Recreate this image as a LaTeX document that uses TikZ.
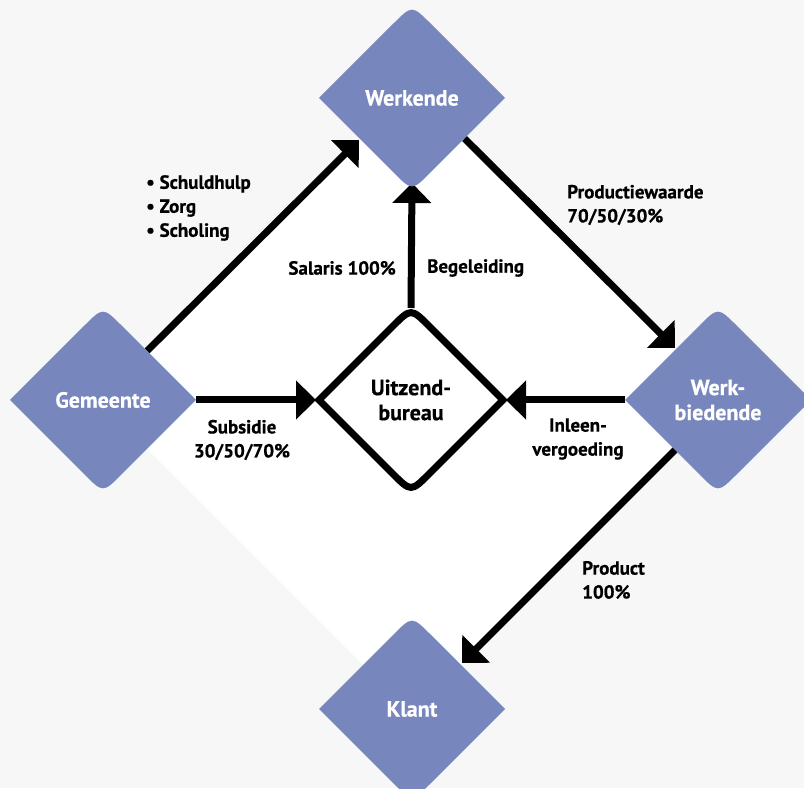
\documentclass[tikz,border=0pt]{standalone}
\usepackage{fontspec}
\setmainfont{PT Sans}[BoldFeatures={FakeBold=0.6}]
\usetikzlibrary{arrows.meta,calc,shapes.geometric,backgrounds}
\definecolor{ruitblauw}{HTML}{7786BC}
\definecolor{grijs}{HTML}{F7F7F7}
\begin{document}
\begin{tikzpicture}[x=1pt, y=1pt, >={Triangle[length=20pt,width=38pt]}]
			\tikzset{ruit/.style={shape=diamond, minimum width=186pt, minimum height=186pt, inner sep=0pt, outer sep=0pt, text=white, align=center, font=\bfseries\fontsize{22}{25}\selectfont},
				kantoor/.style={ruit, minimum width=184pt, minimum height=184pt, text=black},
				lbl/.style={inner sep=0pt, align=left, font=\bfseries\fontsize{19}{24}\selectfont},
				pijl/.style={->, line width=7pt}}
			\def\rond{.2}
			\useasboundingbox (0,0) rectangle (804,788);
			\node[ruit] (wrk) at (412,690) {Werkende};
			\node[ruit] (gem) at (103,388) {Gemeente};
			\node[ruit] (wbd) at (718,388) {Werk-\\biedende};
			\node[ruit] (kla) at (412,79) {Klant};
			\node[kantoor] (uzb) at (411,388) {Uitzend-\\bureau};
			\node[lbl, anchor=west] (zorg) at (146,580) {• Schuldhulp\\• Zorg\\• Scholing};
			\node[lbl, anchor=east] (sal) at (396,520) {Salaris 100\%};
			\node[lbl, anchor=west] (beg) at (427,520) {Begeleiding};
			\node[lbl, anchor=west] (prw) at (567,583) {Productiewaarde\\70/50/30\%};
			\node[lbl, align=center] (sub) at (242,348) {Subsidie\\30/50/70\%};
			\node[lbl, align=center] (inl) at (578,349) {Inleen-\\vergoeding};
			\node[lbl, anchor=west] (prd) at (582,208) {Product\\100\%};
			\begin{pgfonlayer}{background}
				\fill[grijs] (0,0) rectangle (804,788);
				\fill[white] (412,702) -- (726,388) -- (412,74) -- (98,388) -- cycle;
				\draw[pijl] ([shift={(-2.5,2.5)}]gem.north east) -- ([shift={(-6.5,4.5)}]wrk.south west);
				\draw[pijl] (uzb.north) -- ([yshift=8pt]wrk.south);
				\draw[pijl] ([shift={(6,6)}]wrk.south east) -- ([shift={(3.5,5.5)}]wbd.north west);
				\draw[pijl] (gem.east) -- ([xshift=-3pt]uzb.west);
				\draw[pijl] (wbd.west) -- ([xshift=3pt]uzb.east);
				\draw[pijl] ([shift={(4,-3)}]wbd.south west) -- ([shift={(3.5,-0.5)}]kla.north east);
				\foreach \n in {wrk,gem,wbd,kla}
					\fill[ruitblauw] (\n.west) -- ($(\n.north)!\rond!(\n.west)$) .. controls (\n.north) .. ($(\n.north)!\rond!(\n.east)$) -- (\n.east) -- ($(\n.south)!\rond!(\n.east)$) .. controls (\n.south) .. ($(\n.south)!\rond!(\n.west)$) -- cycle;
				\filldraw[fill=white, line width=7pt] (uzb.west) -- ($(uzb.north)!\rond!(uzb.west)$) .. controls (uzb.north) .. ($(uzb.north)!\rond!(uzb.east)$) -- (uzb.east) -- ($(uzb.south)!\rond!(uzb.east)$) .. controls (uzb.south) .. ($(uzb.south)!\rond!(uzb.west)$) -- cycle;
			\end{pgfonlayer}
		\end{tikzpicture}
\end{document}
